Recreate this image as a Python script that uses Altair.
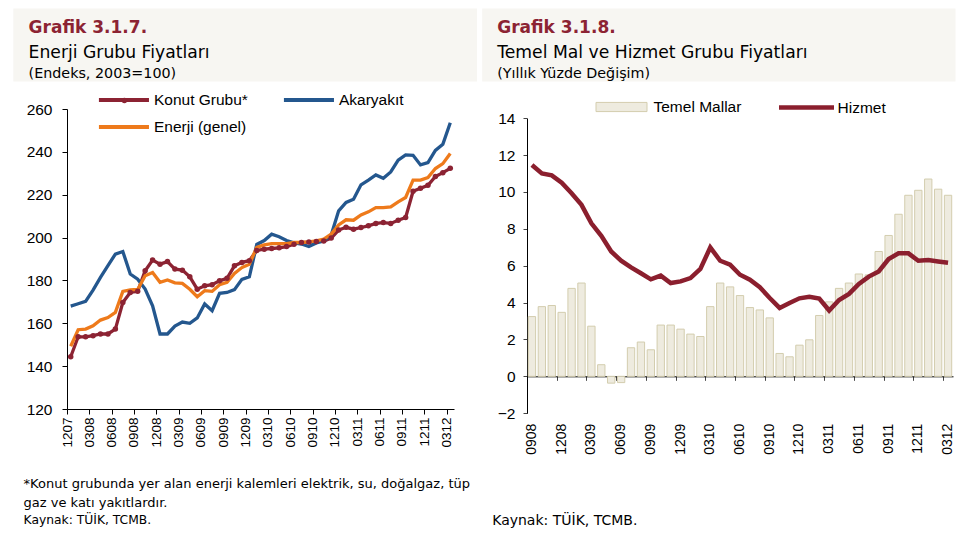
import altair as alt
import pandas as pd

# ---------------- data ----------------
left_months = pd.date_range("2007-12-01", "2012-03-01", freq="MS").strftime("%m%y").tolist()
right_months = pd.date_range("2008-09-01", "2012-03-01", freq="MS").strftime("%m%y").tolist()

series_names = ["Konut Grubu*", "Akaryakıt", "Enerji (genel)"]
konut = [144.4, 153.7, 153.7, 154.2, 155.0, 155.0, 157.3, 169.7, 174.4, 174.9,
         184.5, 189.5, 187.6, 188.8, 185.3, 184.8, 181.7, 175.9, 177.5, 178.0,
         179.8, 181.0, 186.8, 188.4, 189.2, 194.0, 194.6, 194.9, 195.2, 195.8,
         196.9, 197.7, 197.9, 198.2, 198.4, 199.8, 203.5, 204.8, 203.9, 204.7,
         205.5, 206.6, 207.0, 206.6, 208.1, 209.4, 221.6, 223.0, 224.4, 228.5,
         230.3, 232.3]
akaryakit = [168.0, 169.1, 170.2, 175.5, 181.4, 186.9, 192.3, 193.5, 183.0, 180.6,
             176.0, 168.2, 155.0, 155.0, 158.7, 160.6, 160.0, 162.5, 169.0, 165.9,
             174.0, 174.4, 175.7, 180.5, 181.7, 196.8, 198.6, 201.6, 200.4, 198.6,
             197.5, 197.0, 195.8, 197.5, 198.4, 201.2, 212.5, 216.4, 217.9, 224.6,
             226.8, 229.2, 227.7, 230.6, 236.1, 238.6, 238.4, 233.9, 235.0, 240.7,
             243.5, 253.6]
enerji = [149.3, 157.0, 157.3, 158.8, 161.5, 162.7, 165.1, 174.9, 175.6, 175.8,
          182.2, 183.7, 179.1, 180.2, 178.9, 178.6, 175.9, 172.4, 175.2, 174.9,
          178.0, 179.1, 183.3, 186.0, 187.6, 195.4, 196.6, 197.2, 197.2, 197.2,
          197.7, 197.7, 198.0, 198.5, 199.3, 201.6, 205.9, 208.3, 208.1, 210.6,
          212.0, 214.0, 214.0, 214.3, 216.7, 218.7, 226.8, 226.8, 228.0, 232.2,
          234.5, 239.2]
left_colors = ["#8C2333", "#24578E", "#EE7A1B"]

temel_mallar = [3.24, 3.78, 3.84, 3.47, 4.77, 5.06, 2.72, 0.63, -0.37, -0.34,
                1.55, 1.86, 1.44, 2.78, 2.78, 2.56, 2.29, 2.16, 3.78, 5.06,
                4.85, 4.38, 3.73, 3.60, 3.17, 1.24, 1.06, 1.69, 1.98, 3.30,
                4.04, 4.77, 5.06, 5.55, 5.50, 6.77, 7.64, 8.79, 9.82, 10.09,
                10.70, 10.15, 9.82]
hizmet = [11.46, 11.0, 10.9, 10.5, 9.93, 9.3, 8.3, 7.62, 6.77, 6.27,
          5.91, 5.59, 5.26, 5.46, 5.06, 5.15, 5.33, 5.82, 6.99, 6.27,
          6.05, 5.51, 5.24, 4.83, 4.25, 3.71, 3.98, 4.23, 4.32, 4.22,
          3.57, 4.14, 4.47, 5.01, 5.41, 5.69, 6.36, 6.67, 6.67, 6.27,
          6.31, 6.23, 6.16]

left_ticks = left_months[::3]
right_ticks = right_months[::3]
left_y_ticks = [120, 140, 160, 180, 200, 220, 240, 260]
right_y_ticks = [-2, 0, 2, 4, 6, 8, 10, 12, 14]

# ---------------- layout constants ----------------
LW, LH = 387, 300
RW = 426
R_TOP = 9.2            # right plot starts a bit lower than the left one
R_PLOT = 295
RH = R_PLOT + R_TOP
L_STEP = LW / len(left_months)
R_STEP = RW / len(right_months)
RED = "#8C2333"
HEADER_BG = "#F7F6F2"
AXIS_FONT = "Liberation Sans"
TEXT_FONT = "DejaVu Sans"

df_left = pd.DataFrame({
    "month": left_months * 3,
    "series": [series_names[0]] * 52 + [series_names[1]] * 52 + [series_names[2]] * 52,
    "value": konut + akaryakit + enerji,
})
df_konut = pd.DataFrame({"month": left_months, "value": konut, "dot": series_names[0]})
df_bars = pd.DataFrame({"month": right_months, "value": temel_mallar, "s": "Temel Mallar"})
df_hiz = pd.DataFrame({"month": right_months, "value": hizmet, "s": "Hizmet"})

one = pd.DataFrame({"a": [0]})


def header(x1, x2, y1, y2):
    return alt.Chart(one).mark_rect(color=HEADER_BG).encode(
        x=alt.value(x1), x2=alt.value(x2), y=alt.value(y1), y2=alt.value(y2))


def text(t, x, y, size, color="#000000", weight="normal", font=TEXT_FONT):
    return alt.Chart(pd.DataFrame({"t": [t]})).mark_text(
        align="left", baseline="alphabetic", font=font, fontSize=size,
        fontWeight=weight, color=color).encode(
        x=alt.value(x), y=alt.value(y), text="t:N")


# ---------------- left panel ----------------
lx = alt.X("month:O", sort=left_months,
           scale=alt.Scale(type="point", padding=0.5),
           axis=alt.Axis(values=left_ticks, labelAngle=270, title=None,
                         tickSize=5, tickOffset=-L_STEP / 2, labelPadding=3,
                         labelFontSize=13.5, labelFont=AXIS_FONT,
                         labelColor="#000", domainColor="#000", tickColor="#000"))
ly = alt.Y("value:Q", scale=alt.Scale(domain=[120, 260], nice=False, zero=False),
           axis=alt.Axis(values=left_y_ticks, title=None, grid=False, tickSize=5,
                         labelPadding=10, labelFontSize=15.5, labelFont=AXIS_FONT,
                         labelColor="#000", domainColor="#000", tickColor="#000"))

lines = alt.Chart(df_left).mark_line(strokeWidth=3.3).encode(
    x=lx, y=ly,
    color=alt.Color("series:N",
                    scale=alt.Scale(domain=series_names, range=left_colors),
                    legend=alt.Legend(orient="none", legendX=47.45, legendY=-18.4,
                                      columns=2, direction="horizontal", title=None,
                                      symbolType="M-3.5,0H3.5", symbolSize=204.5,
                                      symbolStrokeWidth=4,
                                      labelFontSize=15.5, labelFont=AXIS_FONT,
                                      labelColor="#000", labelOffset=20.5,
                                      columnPadding=27, rowPadding=9)),
)
points = alt.Chart(df_konut).mark_circle(size=30, opacity=1).encode(
    x=alt.X("month:O", sort=left_months), y="value:Q",
    fill=alt.Fill("dot:N", scale=alt.Scale(domain=[series_names[0]], range=[RED]),
                  legend=alt.Legend(orient="none", legendX=53.9, legendY=-11.9,
                                    title=None, symbolType="circle", symbolSize=30,
                                    labelExpr="''", labelFontSize=1, symbolOpacity=1)),
)

left = alt.layer(
    header(-53.7, 410, -100.5, -27.5),
    text("Grafik 3.1.7.", -38.4, -76.5, 17, RED, "bold"),
    text("Enerji Grubu Fiyatları", -38.4, -51, 17.2),
    text("(Endeks, 2003=100)", -38.4, -31.5, 14.3),
    lines, points,
    text("*Konut grubunda yer alan enerji kalemleri elektrik, su, doğalgaz, tüp", -43.4, 378.5, 13),
    text("gaz ve katı yakıtlardır.", -43.4, 397.5, 13),
    text("Kaynak: TÜİK, TCMB.", -43.4, 414.5, 12.3),
).properties(width=LW, height=LH)

# ---------------- right panel ----------------
ry = alt.Y("value:Q", scale=alt.Scale(domain=[-2, 14], nice=False, range=[RH, R_TOP]),
           axis=alt.Axis(values=right_y_ticks, title=None, grid=False, tickSize=4,
                         labelPadding=8, labelFontSize=15.5, labelFont=AXIS_FONT,
                         labelColor="#000", domainColor="#000", tickColor="#444"))
rscale = alt.Scale(type="band", paddingInner=0.26, paddingOuter=0.13)
zero_offset = -(R_PLOT * 2 / 16)

bars = alt.Chart(df_bars).mark_bar(stroke="#D3CDAE", strokeWidth=1).encode(
    x=alt.X("month:O", sort=right_months, scale=rscale,
            axis=alt.Axis(values=right_ticks, labelAngle=270, title=None,
                          domain=False, ticks=False, tickSize=0, labelPadding=10,
                          labelFontSize=14, labelFont=AXIS_FONT, labelColor="#000",
                          orient="bottom")),
    y=ry,
    fill=alt.Fill("s:N", scale=alt.Scale(domain=["Temel Mallar"], range=["#EEEBDF"]),
                  legend=alt.Legend(orient="none", legendX=68.5, legendY=-28,
                                    title=None,
                                    symbolType="M-1,-0.18H1V0.18H-1Z",
                                    symbolSize=2601, symbolStrokeColor="#D3CDAE",
                                    symbolStrokeWidth=1, labelFontSize=15.5,
                                    labelFont=AXIS_FONT, labelColor="#000",
                                    labelOffset=6)),
)
hline = alt.Chart(df_hiz).mark_line(strokeWidth=4.5).encode(
    x=alt.X("month:O", sort=right_months, scale=rscale,
            axis=alt.Axis(values=right_ticks, labels=False, title=None,
                          domain=True, ticks=True, tickSize=4,
                          tickOffset=-R_STEP / 2, offset=zero_offset,
                          domainColor="#000", tickColor="#444", orient="bottom")),
    y=ry,
    stroke=alt.Stroke("s:N", scale=alt.Scale(domain=["Hizmet"], range=["#8B1F2E"]),
                      legend=alt.Legend(orient="none", legendX=249.5, legendY=-31.5,
                                        title=None, symbolType="stroke",
                                        symbolSize=3025, symbolStrokeWidth=4.5,
                                        labelFontSize=15.5, labelFont=AXIS_FONT,
                                        labelColor="#000", labelOffset=1)),
)

right = alt.layer(
    header(-44.8, 428.5, -100.5, -27.5),
    text("Grafik 3.1.8.", -29.8, -76.5, 17, RED, "bold"),
    text("Temel Mal ve Hizmet Grubu Fiyatları", -29.8, -51, 17.2),
    text("(Yıllık Yüzde Değişim)", -29.8, -31.5, 14.3),
    bars, hline,
    text("Kaynak: TÜİK, TCMB.", -34.8, 415.5, 14),
).resolve_axis(x="independent").properties(width=RW, height=RH)

chart = alt.hconcat(left, right, spacing=5).resolve_scale(
    color="independent", fill="independent", stroke="independent",
).resolve_legend(
    color="independent", fill="independent", stroke="independent",
).configure(
    padding={"left": 5, "top": 0, "right": 0, "bottom": 0},
    background="white",
).configure_view(stroke=None)

chart.save("out.html", embed_options={"renderer": "svg", "actions": False})
